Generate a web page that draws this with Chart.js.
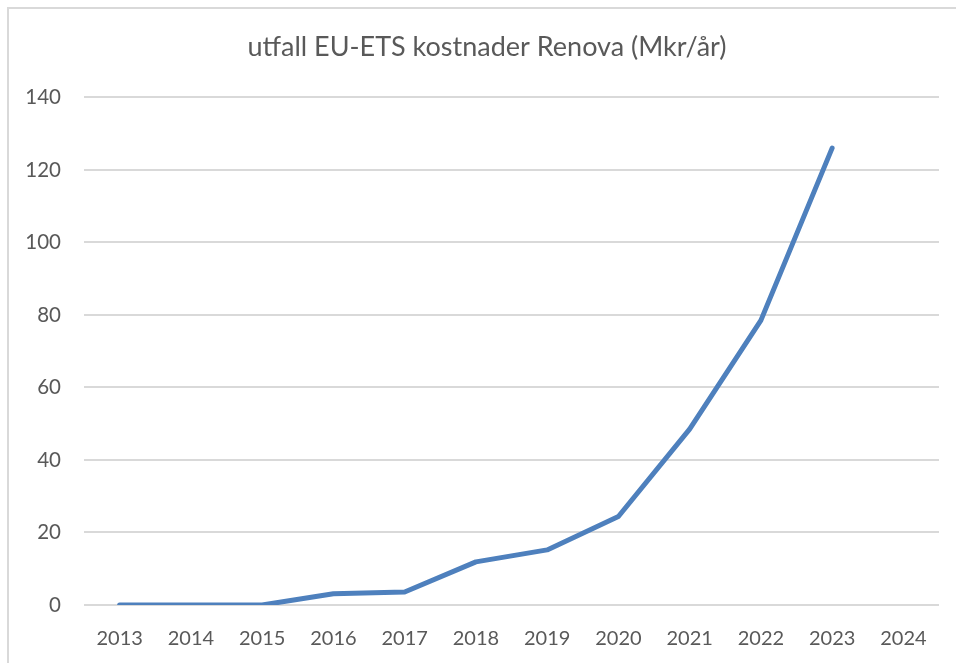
<!DOCTYPE html>
<html lang="sv">
<head>
    <meta charset="UTF-8">
    <title>utfall EU-ETS kostnader Renova</title>
    <style>
        html, body {
            margin: 0;
            padding: 0;
            background: #ffffff;
            overflow: hidden;
        }
        .wrap {
            position: absolute;
            left: 0;
            top: 0;
            width: 956px;
            height: 663px;
        }
        .frame {
            position: absolute;
            left: 7px;
            top: 7px;
            width: 1000px;
            height: 700px;
            border-left: 2px solid #d9d9d9;
            border-top: 2px solid #d9d9d9;
            pointer-events: none;
        }
    </style>
    <script src="https://cdn.jsdelivr.net/npm/chart.js"></script>
</head>
<body>
    <div class="wrap">
        <canvas id="chart" width="956" height="663"></canvas>
    </div>
    <div class="frame"></div>

    <script>
        // data
        const years = ['2013', '2014', '2015', '2016', '2017', '2018', '2019', '2020', '2021', '2022', '2023', '2024'];
        const kostnader = [0, 0, 0, 3.1, 3.6, 11.9, 15.2, 24.4, 48.5, 78.5, 126, null];
        const yTicks = [0, 20, 40, 60, 80, 100, 120, 140];

        const textColor = '#595959';
        const gridColor = '#d9d9d9';
        const fontFamily = 'Lato, "Open Sans", sans-serif';

        const ctx = document.getElementById('chart').getContext('2d');
        new Chart(ctx, {
            type: 'line',
            data: {
                labels: years,
                datasets: [{
                    label: 'utfall',
                    data: kostnader,
                    borderColor: '#4e80bd',
                    backgroundColor: '#4e80bd',
                    borderWidth: 5,
                    borderCapStyle: 'round',
                    borderJoinStyle: 'round',
                    pointRadius: 0,
                    tension: 0,
                    fill: false
                }]
            },
            options: {
                responsive: false,
                animation: false,
                layout: {
                    // left padding keeps the title centred like the original frame
                    padding: { left: 18, right: 0, top: 0, bottom: 0 }
                },
                plugins: {
                    legend: { display: false },
                    tooltip: { enabled: false },
                    title: {
                        display: true,
                        text: 'utfall EU-ETS kostnader Renova (Mkr/år)',
                        color: textColor,
                        font: { family: fontFamily, size: 27, weight: 'normal' },
                        padding: { top: 31, bottom: 34 }
                    }
                },
                scales: {
                    x: {
                        offset: true,
                        grid: { display: false, drawTicks: false },
                        border: { display: false },
                        ticks: {
                            color: textColor,
                            font: { family: fontFamily, size: 20 },
                            padding: 22,
                            maxRotation: 0
                        },
                        afterFit: function (scale) { scale.height = 58; }
                    },
                    y: {
                        min: 0,
                        max: 140,
                        afterBuildTicks: function (scale) {
                            scale.ticks = yTicks.map(v => ({ value: v }));
                        },
                        grid: { color: gridColor, lineWidth: 2, drawTicks: false },
                        border: { display: false },
                        ticks: {
                            color: textColor,
                            font: { family: fontFamily, size: 20.5 },
                            padding: 23
                        },
                        afterFit: function (scale) { scale.width = 66; }
                    },
                    // empty right-hand spacer so the plot ends where the original does
                    spacer: {
                        position: 'right',
                        grid: { display: false, drawTicks: false },
                        border: { display: false },
                        ticks: { display: false },
                        afterFit: function (scale) { scale.width = 17; }
                    }
                }
            }
        });
    </script>
</body>
</html>
